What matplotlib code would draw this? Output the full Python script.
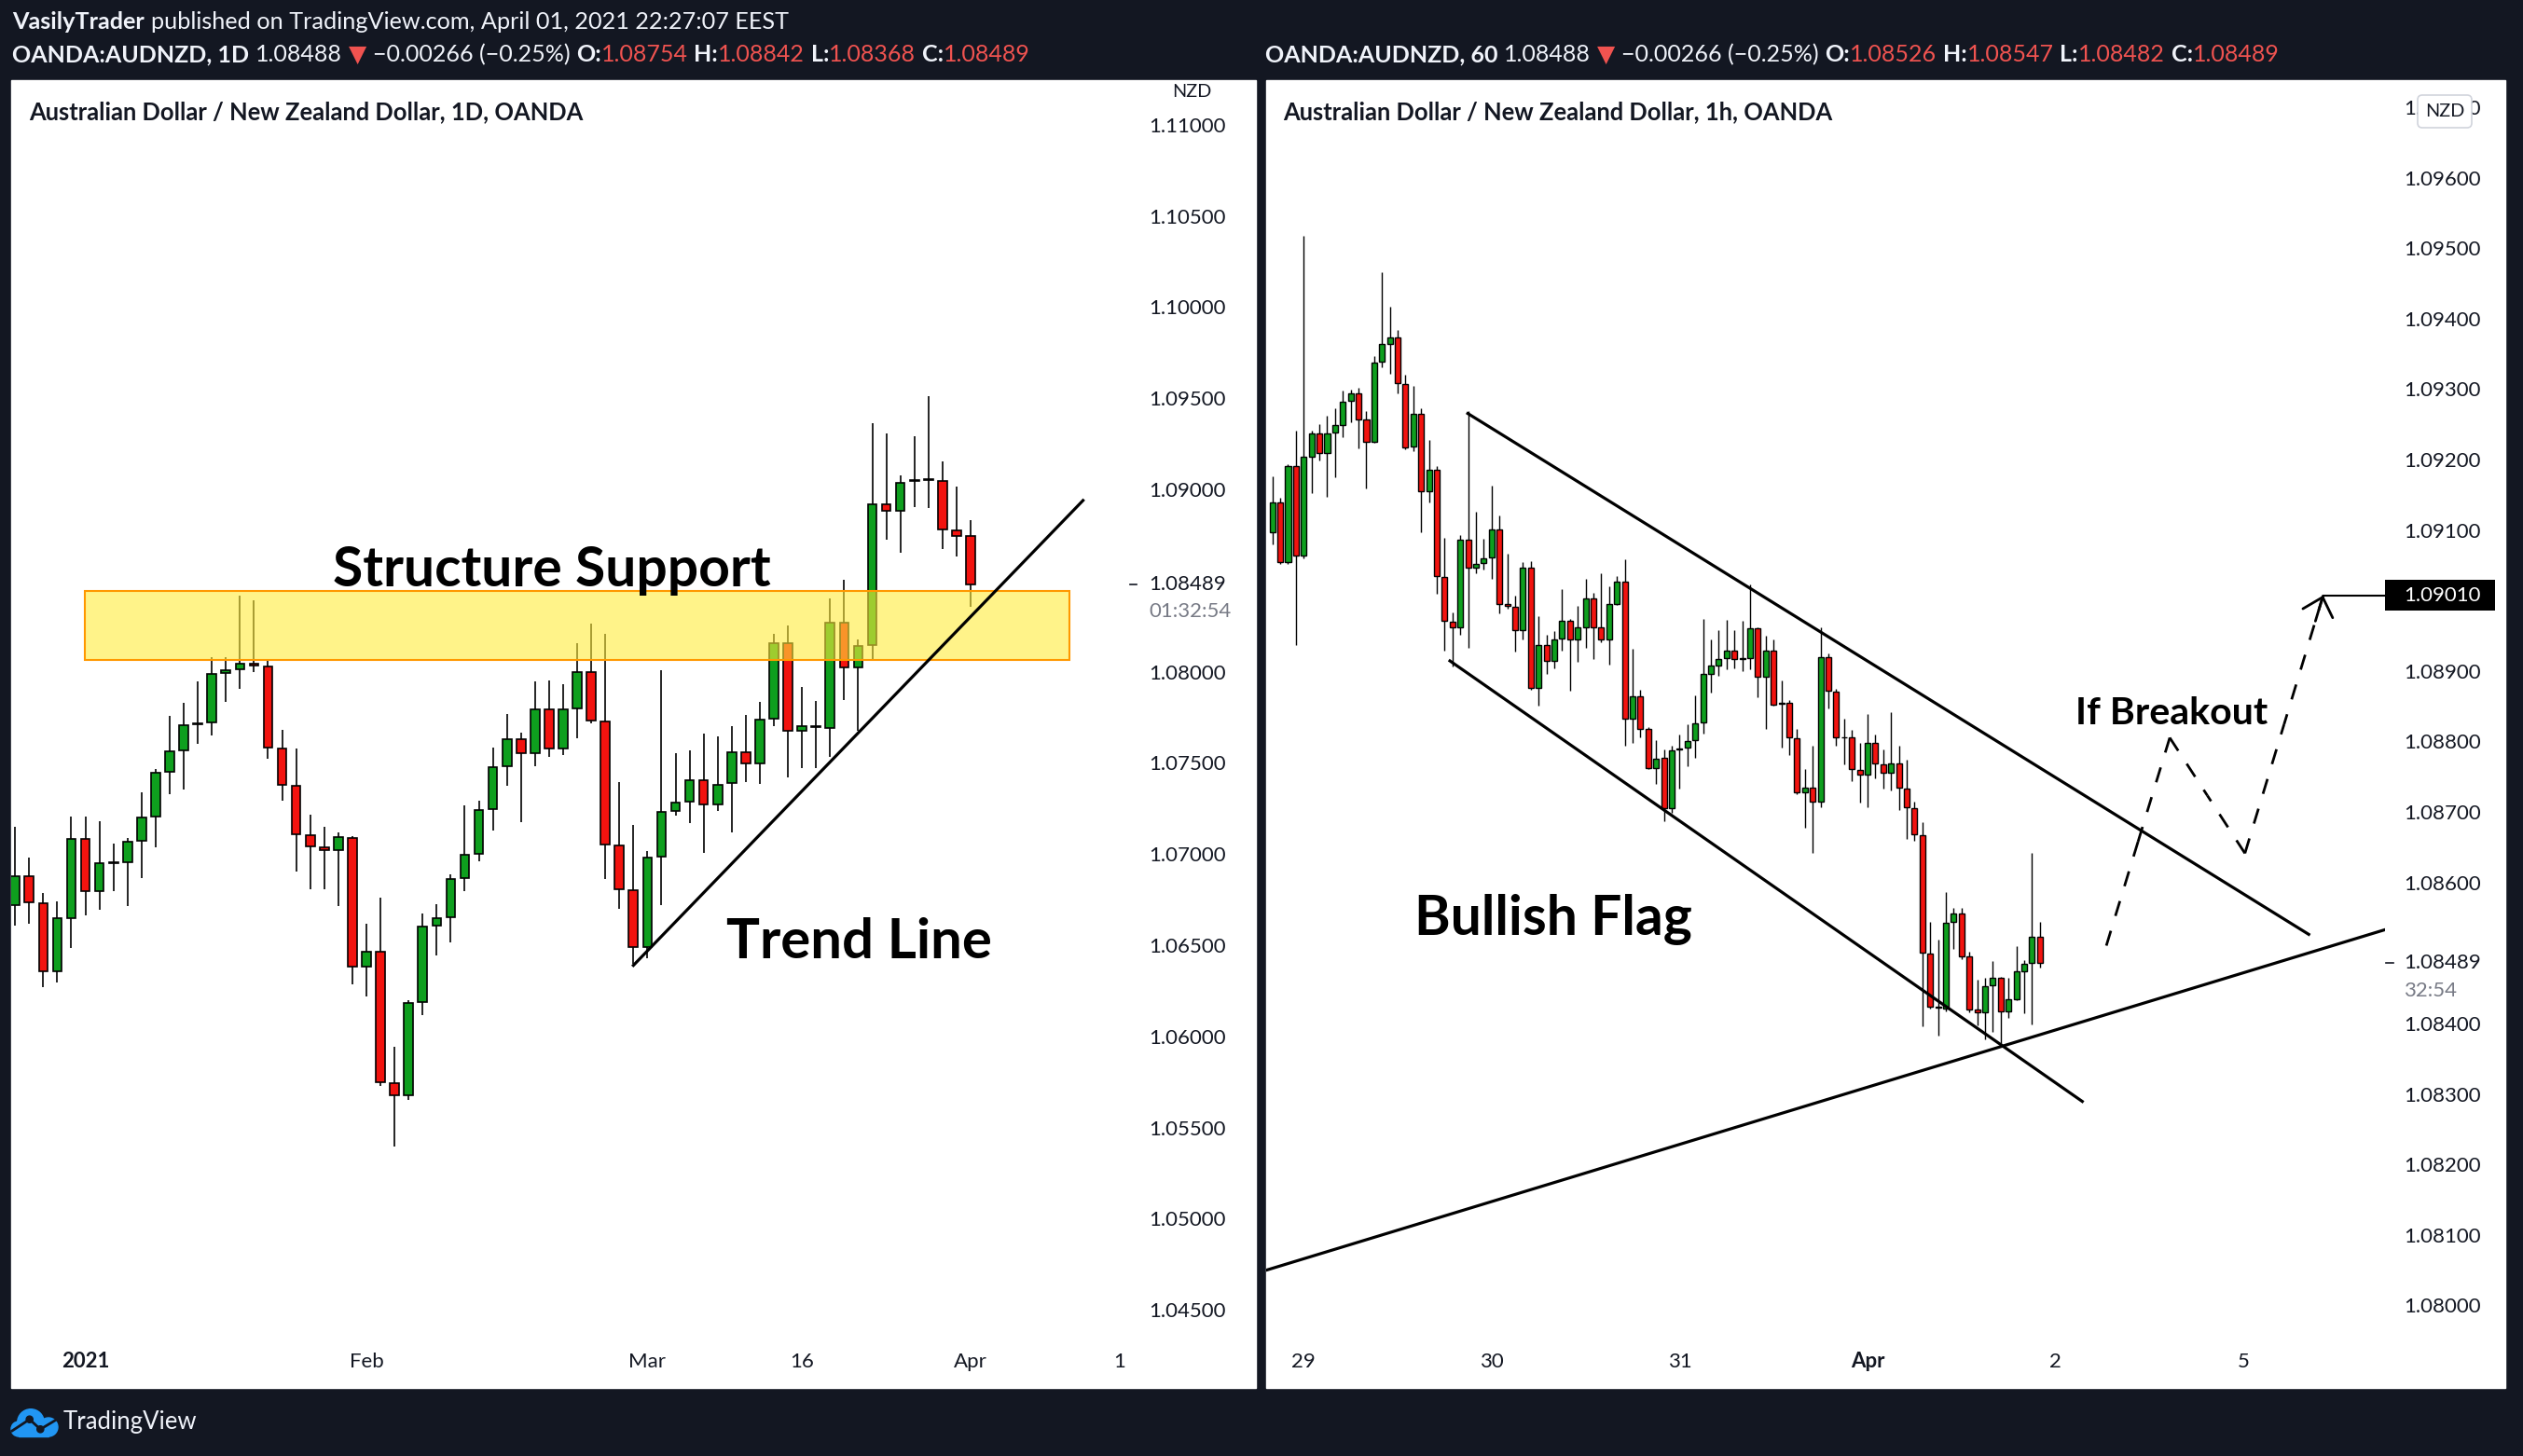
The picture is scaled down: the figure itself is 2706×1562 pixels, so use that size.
import numpy as np
import matplotlib
matplotlib.use("Agg")
import matplotlib.pyplot as plt
from matplotlib.patches import Rectangle, Circle, FancyBboxPatch
from matplotlib.transforms import blended_transform_factory

plt.rcParams['font.family'] = ['Lato', 'DejaVu Sans']

# ---- daily AUDNZD candles (left chart) ----
d_open = [1.06732, 1.06891, 1.06743, 1.06369, 1.06659, 1.07093, 1.06807, 1.06962, 1.06964, 1.07083,
          1.07214, 1.07460, 1.07577, 1.07723, 1.07734, 1.08005, 1.08024, 1.08057, 1.08041, 1.07590,
          1.07385, 1.07114, 1.07047, 1.07033, 1.07101, 1.06394, 1.06475, 1.05755, 1.05689, 1.06200,
          1.06619, 1.06665, 1.06880, 1.07012, 1.07256, 1.07494, 1.07641, 1.07564, 1.07806, 1.07588,
          1.07810, 1.08009, 1.07738, 1.07060, 1.06814, 1.06502, 1.06998, 1.07248, 1.07297, 1.07416,
          1.07285, 1.07399, 1.07569, 1.07509, 1.07753, 1.08168, 1.07687, 1.07708, 1.07704, 1.08281,
          1.08035, 1.08156, 1.08929, 1.08895, 1.09058, 1.09061, 1.09059, 1.08787, 1.08754]
d_high = [1.07160, 1.06989, 1.06799, 1.06753, 1.07214, 1.07214, 1.07193, 1.07066, 1.07101, 1.07350,
          1.07475, 1.07767, 1.07840, 1.07955, 1.08089, 1.08093, 1.08427, 1.08402, 1.08068, 1.07690,
          1.07592, 1.07225, 1.07158, 1.07129, 1.07110, 1.06628, 1.06774, 1.05956, 1.06210, 1.06684,
          1.06736, 1.06901, 1.07277, 1.07302, 1.07594, 1.07778, 1.07675, 1.07959, 1.07963, 1.07942,
          1.08166, 1.08272, 1.08217, 1.07403, 1.07170, 1.07028, 1.08018, 1.07562, 1.07579, 1.07670,
          1.07655, 1.07713, 1.07776, 1.07844, 1.08217, 1.08262, 1.07927, 1.07848, 1.08412, 1.08514,
          1.08190, 1.09374, 1.09315, 1.09086, 1.09302, 1.09523, 1.09163, 1.09027, 1.08842]
d_low = [1.06619, 1.06628, 1.06281, 1.06304, 1.06494, 1.06676, 1.06703, 1.06805, 1.06728, 1.06878,
         1.07049, 1.07337, 1.07362, 1.07617, 1.07663, 1.07847, 1.07915, 1.08007, 1.07531, 1.07302,
         1.06916, 1.06820, 1.06820, 1.06724, 1.06294, 1.06231, 1.05741, 1.05405, 1.05664, 1.06127,
         1.06457, 1.06525, 1.06809, 1.06972, 1.07139, 1.07386, 1.07187, 1.07492, 1.07541, 1.07556,
         1.07647, 1.07725, 1.06873, 1.06710, 1.06407, 1.06439, 1.06729, 1.07223, 1.07179, 1.07015,
         1.07248, 1.07128, 1.07407, 1.07395, 1.07710, 1.07431, 1.07482, 1.07484, 1.07545, 1.07857,
         1.07687, 1.08077, 1.08736, 1.08664, 1.08914, 1.08908, 1.08686, 1.08641, 1.08368]
d_close = [1.06891, 1.06745, 1.06369, 1.06657, 1.07093, 1.06807, 1.06962, 1.06966, 1.07078, 1.07212,
           1.07458, 1.07575, 1.07717, 1.07727, 1.08001, 1.08020, 1.08057, 1.08045, 1.07596, 1.07392,
           1.07120, 1.07051, 1.07033, 1.07104, 1.06394, 1.06475, 1.05757, 1.05689, 1.06194, 1.06613,
           1.06659, 1.06874, 1.07008, 1.07252, 1.07488, 1.07641, 1.07564, 1.07806, 1.07588, 1.07806,
           1.08009, 1.07742, 1.07064, 1.06820, 1.06502, 1.06992, 1.07240, 1.07291, 1.07416, 1.07285,
           1.07389, 1.07569, 1.07509, 1.07749, 1.08168, 1.07687, 1.07713, 1.07713, 1.08281, 1.08035,
           1.08154, 1.08929, 1.08895, 1.09048, 1.09061, 1.09065, 1.08790, 1.08755, 1.08489]
d_tick_pos = [5, 25, 45, 56, 68, 79]
d_tick_lbl = ['2021', 'Feb', 'Mar', '16', 'Apr', '16']
d_prices = [1.110, 1.105, 1.100, 1.095, 1.090, 1.080, 1.075, 1.070, 1.065, 1.060, 1.055, 1.050, 1.045]
zone = [4.93, 75.0, 1.08075, 1.08453]
trend_x = [44.0, 76.0]
trend_y = [1.0640, 1.0895]

# ---- hourly AUDNZD candles (right chart) ----
h_open = [1.09100, 1.09142, 1.09057, 1.09194, 1.09066, 1.09207, 1.09239, 1.09212, 1.09241, 1.09252,
          1.09286, 1.09297, 1.09259, 1.09228, 1.09341, 1.09367, 1.09376, 1.09310, 1.09221, 1.09268,
          1.09157, 1.09188, 1.09036, 1.08973, 1.08965, 1.09089, 1.09049, 1.09056, 1.09064, 1.09104,
          1.08997, 1.08994, 1.08960, 1.09049, 1.08878, 1.08940, 1.08917, 1.08949, 1.08974, 1.08947,
          1.08964, 1.09005, 1.08964, 1.08947, 1.08998, 1.09030, 1.08835, 1.08867, 1.08820, 1.08765,
          1.08779, 1.08708, 1.08791, 1.08794, 1.08804, 1.08830, 1.08898, 1.08910, 1.08921, 1.08931,
          1.08920, 1.08921, 1.08963, 1.08894, 1.08931, 1.08856, 1.08857, 1.08807, 1.08730, 1.08737,
          1.08717, 1.08922, 1.08874, 1.08809, 1.08809, 1.08762, 1.08756, 1.08800, 1.08770, 1.08758,
          1.08771, 1.08736, 1.08708, 1.08670, 1.08502, 1.08425, 1.08424, 1.08547, 1.08558, 1.08498,
          1.08422, 1.08418, 1.08457, 1.08467, 1.08420, 1.08437, 1.08477, 1.08488, 1.08526]
h_high = [1.09179, 1.09149, 1.09196, 1.09244, 1.09520, 1.09244, 1.09253, 1.09265, 1.09275, 1.09301,
          1.09302, 1.09305, 1.09271, 1.09350, 1.09469, 1.09419, 1.09387, 1.09323, 1.09307, 1.09275,
          1.09230, 1.09194, 1.09092, 1.08986, 1.09096, 1.09272, 1.09129, 1.09090, 1.09166, 1.09123,
          1.09069, 1.09010, 1.09057, 1.09059, 1.08980, 1.08954, 1.08959, 1.09019, 1.08976, 1.08995,
          1.09033, 1.09014, 1.09041, 1.09023, 1.09037, 1.09061, 1.08934, 1.08876, 1.08823, 1.08805,
          1.08792, 1.08797, 1.08812, 1.08827, 1.08868, 1.08976, 1.08947, 1.08961, 1.08975, 1.08961,
          1.08974, 1.09026, 1.08964, 1.08953, 1.08947, 1.08889, 1.08861, 1.08821, 1.08764, 1.08797,
          1.08965, 1.08927, 1.08877, 1.08835, 1.08819, 1.08801, 1.08842, 1.08813, 1.08791, 1.08844,
          1.08797, 1.08777, 1.08717, 1.08688, 1.08547, 1.08521, 1.08589, 1.08567, 1.08566, 1.08504,
          1.08465, 1.08467, 1.08491, 1.08469, 1.08467, 1.08512, 1.08492, 1.08645, 1.08547]
h_low = [1.09082, 1.09055, 1.09054, 1.08940, 1.09063, 1.09155, 1.09201, 1.09150, 1.09178, 1.09235,
         1.09256, 1.09219, 1.09162, 1.09226, 1.09334, 1.09324, 1.09296, 1.09217, 1.09215, 1.09100,
         1.09142, 1.09012, 1.08931, 1.08909, 1.08954, 1.08936, 1.09041, 1.09047, 1.09034, 1.08985,
         1.08991, 1.08930, 1.08947, 1.08876, 1.08853, 1.08899, 1.08907, 1.08931, 1.08875, 1.08915,
         1.08936, 1.08920, 1.08944, 1.08912, 1.08996, 1.08796, 1.08800, 1.08808, 1.08763, 1.08742,
         1.08690, 1.08702, 1.08736, 1.08768, 1.08779, 1.08814, 1.08872, 1.08896, 1.08905, 1.08907,
         1.08902, 1.08905, 1.08866, 1.08820, 1.08853, 1.08794, 1.08784, 1.08728, 1.08680, 1.08644,
         1.08709, 1.08850, 1.08796, 1.08770, 1.08747, 1.08716, 1.08710, 1.08751, 1.08736, 1.08733,
         1.08706, 1.08665, 1.08662, 1.08399, 1.08424, 1.08386, 1.08420, 1.08509, 1.08494, 1.08418,
         1.08400, 1.08380, 1.08390, 1.08373, 1.08410, 1.08436, 1.08417, 1.08401, 1.08482]
h_close = [1.09142, 1.09057, 1.09194, 1.09066, 1.09206, 1.09239, 1.09212, 1.09240, 1.09251, 1.09285,
           1.09297, 1.09260, 1.09228, 1.09340, 1.09367, 1.09376, 1.09311, 1.09220, 1.09268, 1.09157,
           1.09188, 1.09037, 1.08974, 1.08965, 1.09089, 1.09049, 1.09055, 1.09063, 1.09104, 1.08997,
           1.08995, 1.08960, 1.09049, 1.08878, 1.08940, 1.08917, 1.08948, 1.08974, 1.08947, 1.08964,
           1.09005, 1.08965, 1.08947, 1.08998, 1.09030, 1.08835, 1.08867, 1.08821, 1.08765, 1.08778,
           1.08708, 1.08790, 1.08793, 1.08803, 1.08829, 1.08898, 1.08910, 1.08920, 1.08931, 1.08920,
           1.08921, 1.08963, 1.08894, 1.08931, 1.08855, 1.08857, 1.08808, 1.08730, 1.08737, 1.08717,
           1.08922, 1.08875, 1.08809, 1.08808, 1.08764, 1.08756, 1.08800, 1.08772, 1.08758, 1.08771,
           1.08737, 1.08709, 1.08671, 1.08503, 1.08426, 1.08426, 1.08546, 1.08558, 1.08498, 1.08422,
           1.08418, 1.08456, 1.08467, 1.08420, 1.08437, 1.08476, 1.08487, 1.08526, 1.08489]
h_tick_pos = [4, 28, 52, 76, 100, 124]
h_tick_lbl = ['29', '30', '31', 'Apr', '2', '5']
h_prices = [1.097, 1.096, 1.095, 1.094, 1.093, 1.092, 1.091, 1.089, 1.088, 1.087,
            1.086, 1.084, 1.083, 1.082, 1.081, 1.080]
flag_top_x, flag_top_y = [24.95, 132.35], [1.09268, 1.08529]
flag_bot_x, flag_bot_y = [22.67, 103.43], [1.08917, 1.08292]
support_x, support_y = [-0.67, 142.2], [1.08053, 1.08536]
path_x = [106.5, 114.6, 124.2, 134.2]
path_y = [1.08513, 1.08808, 1.08644, 1.09010]
target = 1.09010
last_price = 1.08489

hdr_left = ['1.08754', '1.08842', '1.08368', '1.08489']
hdr_right = ['1.08526', '1.08547', '1.08482', '1.08489']

# ---- styling ----
W, H, DPI = 2706, 1562, 100
BG = '#131722'
GREEN = '#0E9F1E'
RED = '#F2130F'
HRED = '#F05350'
WHITE = '#F0F3FA'
INK = '#131722'

fig = plt.figure(figsize=(W / DPI, H / DPI), dpi=DPI, facecolor=BG)

base = fig.add_axes([0, 0, 1, 1], zorder=0)
base.set_xlim(0, W)
base.set_ylim(H, 0)
base.axis('off')
base.add_patch(Rectangle((12, 86), 1335, 1403, color='white'))
base.add_patch(Rectangle((1358, 86), 1329, 1403, color='white'))


def pane(x0, x1, y0=86, y1=1489):
    ax = fig.add_axes([x0 / W, 1 - y1 / H, (x1 - x0) / W, (y1 - y0) / H], zorder=1)
    ax.patch.set_visible(False)
    ax.axis('off')
    return ax


def candles(ax, o, h, l, c, width, lw):
    o, h, l, c = (np.asarray(v) for v in (o, h, l, c))
    x = np.arange(len(o))
    ax.vlines(x, l, h, colors='black', lw=lw, zorder=2)
    cols = np.where(c >= o, GREEN, RED)
    ax.bar(x, np.maximum(np.abs(c - o), 1e-6), bottom=np.minimum(o, c), width=width,
           color=cols, edgecolor='black', linewidth=lw, zorder=2.5)


def price_scale(ax, prices, xf, dash, countdown, cd_off):
    tr = blended_transform_factory(ax.transAxes, ax.transData)
    for p in prices:
        ax.text(xf, p, f'{p:.5f}', transform=tr, ha='left', va='center', fontsize=16, color=INK)
    ax.text(xf, last_price, f'{last_price:.5f}', transform=tr, ha='left', va='center',
            fontsize=16, color=INK)
    ax.plot(dash, [last_price, last_price], transform=tr, clip_on=False, color=INK, lw=1.2)
    ax.annotate(countdown, xy=(xf, last_price), xycoords=tr, xytext=(0, -cd_off),
                textcoords='offset points', ha='left', va='center', fontsize=16, color='#787B86')


def time_scale(ax, pos, labels, bold):
    tr = blended_transform_factory(ax.transData, ax.transAxes)
    for p, s in zip(pos, labels):
        ax.text(p, 0.02, s, transform=tr, ha='center', va='center', fontsize=16, color=INK,
                fontweight='bold' if s == bold else 'normal', clip_on=True)


def dashed(ax, xs, ys):
    # each leg is dashed from both of its ends so corners get a stroke
    for i in range(len(xs) - 1):
        xm, ym = (xs[i] + xs[i + 1]) / 2, (ys[i] + ys[i + 1]) / 2
        for xa, ya in ((xs[i], ys[i]), (xs[i + 1], ys[i + 1])):
            ax.plot([xa, xm], [ya, ym], color='black', lw=2, ls=(0, (6, 6)), zorder=4)


# left chart
ax1 = pane(12, 1208)
candles(ax1, d_open, d_high, d_low, d_close, 0.64, 1.2)
ax1.add_patch(Rectangle((zone[0], zone[2]), zone[1] - zone[0], zone[3] - zone[2],
                        facecolor='#FFEB3B', alpha=0.6, edgecolor='none', zorder=3))
ax1.add_patch(Rectangle((zone[0], zone[2]), zone[1] - zone[0], zone[3] - zone[2],
                        facecolor='none', edgecolor='#FF9800', lw=1.5, zorder=3.5))
ax1.plot(trend_x, trend_y, color='black', lw=2.3, zorder=4)
ax1.set_xlim(-0.279, 79.08)
ax1.set_ylim(1.040823, 1.112551)
price_scale(ax1, d_prices, 1.0201, [1.0031, 1.0089], '01:32:54', 21)
time_scale(ax1, d_tick_pos, d_tick_lbl, '2021')

# right chart
ax2 = pane(1358, 2558)
candles(ax2, h_open, h_high, h_low, h_close, 0.72, 1.0)
ax2.plot(flag_top_x, flag_top_y, color='black', lw=2.3, zorder=4)
ax2.plot(flag_bot_x, flag_bot_y, color='black', lw=2.3, zorder=4)
ax2.plot(support_x, support_y, color='black', lw=2.3, zorder=4)
dashed(ax2, path_x, path_y)
ax2.annotate('', xy=(path_x[-1], path_y[-1]),
             xytext=(path_x[-1] - 0.1 * (path_x[-1] - path_x[-2]),
                     path_y[-1] - 0.1 * (path_y[-1] - path_y[-2])),
             arrowprops=dict(arrowstyle='->,head_length=0.65,head_width=0.6', lw=2,
                             color='black', mutation_scale=20, shrinkA=0, shrinkB=0))
ax2.set_xlim(-0.798, 142.09)
ax2.set_ylim(1.078855, 1.0974084)
ax2.plot([path_x[-1], ax2.get_xlim()[1]], [target, target], color='black', lw=1.5, zorder=4)
tr2 = blended_transform_factory(ax2.transAxes, ax2.transData)
ax2.add_patch(Rectangle((1.0, target - 0.000221), 0.098, 0.000442, transform=tr2,
                        facecolor='black', clip_on=False, zorder=5))
ax2.text(1.01667, target, f'{target:.5f}', transform=tr2, ha='left', va='center',
         fontsize=16, color='white', zorder=6)
price_scale(ax2, h_prices, 1.01667, [1.0005, 1.0078], '32:54', 21.6)
time_scale(ax2, h_tick_pos, h_tick_lbl, 'Apr')

# overlay in pixel coordinates
top = fig.add_axes([0, 0, 1, 1], zorder=5)
top.set_xlim(0, W)
top.set_ylim(H, 0)
top.axis('off')
top.patch.set_visible(False)

rend = fig.canvas.get_renderer()


def rich(x, y, parts, size):
    sp = 0.27 * size * DPI / 72
    for txt, color, bold, gap in parts:
        t = top.text(x, y, txt, color=color, fontsize=size, va='baseline', ha='left',
                     fontweight='bold' if bold else 'normal')
        x = t.get_window_extent(renderer=rend).x1 + (sp if gap else 0)


def quote_line(x, name, vals):
    rich(x, 66, [(name, WHITE, True, 1), ('1.08488', WHITE, False, 1), ('▼', HRED, False, 1),
                 ('−0.00266 (−0.25%)', WHITE, False, 1),
                 ('O:', WHITE, True, 0), (vals[0], HRED, False, 1),
                 ('H:', WHITE, True, 0), (vals[1], HRED, False, 1),
                 ('L:', WHITE, True, 0), (vals[2], HRED, False, 1),
                 ('C:', WHITE, True, 0), (vals[3], HRED, False, 0)], 18)


rich(13, 31, [('VasilyTrader', WHITE, True, 1),
              ('published on TradingView.com, April 01, 2021 22:27:07 EEST', WHITE, False, 0)], 18.2)
quote_line(13, 'OANDA:AUDNZD, 1D', hdr_left)
quote_line(1357, 'OANDA:AUDNZD, 60', hdr_right)

top.text(31, 128, 'Australian Dollar / New Zealand Dollar, 1D, OANDA', fontsize=18.4,
         fontweight='bold', color=INK, va='baseline')
top.text(1376, 128, 'Australian Dollar / New Zealand Dollar, 1h, OANDA', fontsize=18.4,
         fontweight='bold', color=INK, va='baseline')
top.text(1278, 99, 'NZD', fontsize=14.3, color=INK, ha='center', va='center')
top.add_patch(FancyBboxPatch((2593, 102), 58, 35, boxstyle='round,pad=0,rounding_size=5',
                             facecolor='white', edgecolor='#D1D4DC', lw=1.2))
top.text(2622, 119.5, 'NZD', fontsize=14.3, color=INK, ha='center', va='center')

top.text(357, 629, 'Structure Support', fontsize=42.3, fontweight='bold', color='black', va='baseline')
top.text(779, 1028, 'Trend Line', fontsize=43.2, fontweight='bold', color='black', va='baseline')
top.text(1517, 1003, 'Bullish Flag', fontsize=42.3, fontweight='bold', color='black', va='baseline')
top.text(2226, 777, 'If Breakout', fontsize=29.6, fontweight='bold', color='black', va='baseline')

# TradingView logo
blue = '#2196F3'
for cx, cy, r in ((33, 1526, 14.3), (52, 1531, 10), (20, 1533, 8)):
    top.add_patch(Circle((cx, cy), r, color=blue))
top.add_patch(Rectangle((20, 1531), 32, 10, color=blue))
top.plot([13, 31.7, 43.3, 60], [1535, 1522.7, 1533.3, 1523.3], color=BG, lw=2)
for cx, cy in ((31.7, 1522.7), (43.3, 1533.3)):
    top.add_patch(Circle((cx, cy), 3.6, color=BG))
top.text(68, 1526, 'TradingView', fontsize=18.5, color=WHITE, va='center')

fig.savefig('out.png', dpi=DPI, facecolor=BG)
